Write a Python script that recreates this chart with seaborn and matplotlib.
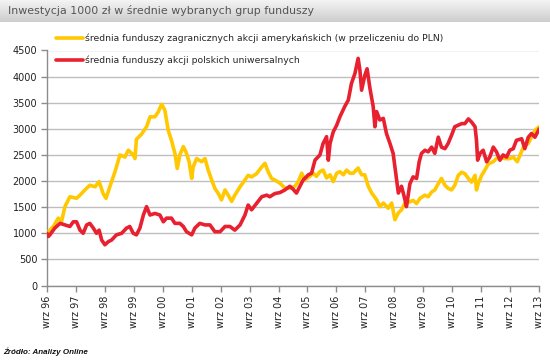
import numpy as np
import pandas as pd
import matplotlib
matplotlib.use("Agg")
import matplotlib.pyplot as plt
import seaborn as sns
from matplotlib.lines import Line2D
from matplotlib.colors import LinearSegmentedColormap

# ---------------- data ----------------
title = "Inwestycja 1000 zł w średnie wybranych grup funduszy"
source = "Źródło: Analizy Online"
label_us = "średnia funduszy zagranicznych akcji amerykańskich (w przeliczeniu do PLN)"
label_pl = "średnia funduszy akcji polskich uniwersalnych"

tick_years = [1996.67 + k for k in range(18)]
tick_labels = ["wrz 96", "wrz 97", "wrz 98", "wrz 99", "wrz 00", "wrz 01", "wrz 02",
               "wrz 03", "wrz 04", "wrz 05", "wrz 06", "wrz 07", "wrz 08", "wrz 09",
               "wrz 10", "wrz 11", "wrz 12", "wrz 13"]
y_ticks = [0, 500, 1000, 1500, 2000, 2500, 3000, 3500, 4000, 4500]

years_us = [1996.67, 1996.89, 1997.06, 1997.17, 1997.29, 1997.46, 1997.69, 1997.81, 1997.98,
            1998.15, 1998.33, 1998.47, 1998.61, 1998.71, 1998.84, 1999.02, 1999.19, 1999.36,
            1999.48, 1999.65, 1999.71, 1999.76, 1999.94, 2000.11, 2000.23, 2000.40, 2000.51,
            2000.63, 2000.74, 2000.86, 2000.97, 2001.09, 2001.17, 2001.26, 2001.38, 2001.47,
            2001.58, 2001.67, 2001.72, 2001.84, 2002.01, 2002.13, 2002.24, 2002.36, 2002.47,
            2002.59, 2002.70, 2002.82, 2002.93, 2003.05, 2003.16, 2003.34, 2003.51, 2003.62,
            2003.74, 2003.91, 2004.09, 2004.20, 2004.31, 2004.43, 2004.54, 2004.72, 2004.89,
            2005.06, 2005.24, 2005.35, 2005.47, 2005.58, 2005.75, 2005.87, 2005.98, 2006.10,
            2006.21, 2006.33, 2006.45, 2006.56, 2006.68, 2006.79, 2006.91, 2007.02, 2007.14,
            2007.25, 2007.42, 2007.54, 2007.65, 2007.77, 2007.89, 2008.06, 2008.17, 2008.29,
            2008.46, 2008.58, 2008.69, 2008.81, 2008.92, 2009.04, 2009.19, 2009.32, 2009.44,
            2009.56, 2009.73, 2009.84, 2009.96, 2010.07, 2010.19, 2010.30, 2010.42, 2010.53,
            2010.65, 2010.76, 2010.88, 2011.00, 2011.11, 2011.23, 2011.34, 2011.46, 2011.51,
            2011.57, 2011.69, 2011.80, 2011.92, 2012.09, 2012.20, 2012.32, 2012.49, 2012.66,
            2012.78, 2012.92, 2013.01, 2013.13, 2013.30, 2013.41, 2013.53, 2013.68]
values_us = [1000, 1130, 1290, 1220, 1510, 1700, 1670, 1730, 1830,
             1920, 1890, 1990, 1760, 1670, 1890, 2180, 2500, 2460,
             2590, 2500, 2430, 2800, 2900, 3040, 3230, 3230, 3320,
             3470, 3360, 2970, 2780, 2530, 2240, 2500, 2660, 2560,
             2370, 2050, 2270, 2430, 2370, 2430, 2210, 2020, 1860,
             1760, 1640, 1830, 1730, 1610, 1730, 1890, 2020, 2110,
             2080, 2140, 2270, 2340, 2180, 2050, 2020, 1960, 1865,
             1865, 1900, 1990, 2150, 2020, 2090, 2150, 2090, 2180,
             2210, 2060, 2120, 1990, 2150, 2180, 2120, 2210, 2150,
             2150, 2250, 2120, 2120, 1900, 1770, 1640, 1510, 1580,
             1480, 1580, 1260, 1390, 1450, 1580, 1600, 1630, 1570,
             1670, 1730, 1700, 1790, 1830, 1950, 2050, 1920, 1860,
             1830, 1920, 2110, 2170, 2140, 2050, 1980, 2110, 1830,
             1950, 2110, 2210, 2330, 2370, 2430, 2460, 2430, 2430,
             2460, 2370, 2490, 2650, 2720, 2840, 2970, 3040]

years_pl = [1996.67, 1996.72, 1996.77, 1996.94, 1997.12, 1997.29, 1997.46, 1997.58, 1997.69,
            1997.81, 1997.92, 1998.04, 1998.15, 1998.27, 1998.38, 1998.47, 1998.56, 1998.67,
            1998.79, 1998.90, 1999.07, 1999.25, 1999.42, 1999.53, 1999.65, 1999.76, 1999.88,
            2000.00, 2000.11, 2000.23, 2000.40, 2000.57, 2000.69, 2000.80, 2000.97, 2001.09,
            2001.26, 2001.38, 2001.49, 2001.67, 2001.78, 2001.95, 2002.13, 2002.30, 2002.47,
            2002.65, 2002.82, 2002.99, 2003.16, 2003.34, 2003.51, 2003.62, 2003.74, 2003.91,
            2004.09, 2004.26, 2004.37, 2004.54, 2004.72, 2004.89, 2005.06, 2005.18, 2005.29,
            2005.41, 2005.52, 2005.70, 2005.81, 2005.93, 2006.10, 2006.21, 2006.33, 2006.39,
            2006.45, 2006.56, 2006.68, 2006.79, 2006.96, 2007.08, 2007.19, 2007.31, 2007.42,
            2007.48, 2007.54, 2007.65, 2007.73, 2007.83, 2007.94, 2008.00, 2008.06, 2008.17,
            2008.29, 2008.40, 2008.52, 2008.63, 2008.75, 2008.81, 2008.92, 2009.04, 2009.09,
            2009.21, 2009.32, 2009.44, 2009.53, 2009.61, 2009.73, 2009.84, 2009.96, 2010.07,
            2010.19, 2010.30, 2010.42, 2010.53, 2010.65, 2010.76, 2010.88, 2011.00, 2011.11,
            2011.23, 2011.34, 2011.46, 2011.51, 2011.55, 2011.63, 2011.74, 2011.86, 2011.97,
            2012.09, 2012.20, 2012.32, 2012.43, 2012.55, 2012.66, 2012.78, 2012.89, 2013.07,
            2013.18, 2013.30, 2013.41, 2013.53, 2013.68]
values_pl = [1000, 940, 970, 1100, 1190, 1160, 1130, 1220, 1220,
             1060, 1000, 1160, 1190, 1100, 1000, 1060, 870, 780,
             840, 870, 970, 1000, 1100, 1130, 1000, 970, 1100,
             1350, 1510, 1350, 1380, 1350, 1220, 1290, 1290, 1190,
             1190, 1130, 1030, 970, 1100, 1190, 1160, 1160, 1030,
             1030, 1130, 1130, 1060, 1160, 1350, 1540, 1450, 1570,
             1700, 1730, 1700, 1760, 1780, 1830, 1900, 1840, 1770,
             1900, 2020, 2120, 2150, 2400, 2500, 2720, 2850, 2400,
             2720, 2940, 3070, 3230, 3430, 3550, 3870, 4060, 4350,
             4130, 3740, 4020, 4150, 3770, 3430, 3040, 3330, 3170,
             3200, 2910, 2720, 2530, 2020, 1770, 1900, 1640, 1510,
             1950, 2080, 2050, 2370, 2530, 2590, 2560, 2650, 2530,
             2840, 2650, 2620, 2720, 2880, 3040, 3070, 3100, 3100,
             3190, 3130, 3040, 2780, 2400, 2530, 2590, 2370, 2460,
             2650, 2560, 2400, 2500, 2460, 2590, 2620, 2780, 2810,
             2620, 2840, 2910, 2840, 3000]

col_us = "#FFC800"
col_pl = "#E8202F"

# ---------------- figure ----------------
sns.set_theme(style="white")
plt.rcParams["font.family"] = ["DejaVu Sans"]

fig = plt.figure(figsize=(5.5, 3.64), dpi=100)
fig.patch.set_facecolor("white")

# title band with gradient
band = fig.add_axes([0, 1 - 22 / 364, 1, 22 / 364])
grad = np.linspace(0, 1, 50).reshape(-1, 1)
cmap = LinearSegmentedColormap.from_list("g", ["#F4F4F4", "#CDCDCD"])
band.imshow(grad, aspect="auto", cmap=cmap, extent=[0, 1, 0, 1], origin="upper")
band.set_axis_off()
band.text(8 / 550, 0.5, title, transform=band.transAxes, ha="left", va="center",
          fontsize=7.9, color="#555555")

ax = fig.add_axes([47 / 550, 1 - 285.5 / 364, 492 / 550, 235 / 364])

df_us = pd.DataFrame({"rok": years_us, "wartosc": values_us})
df_pl = pd.DataFrame({"rok": years_pl, "wartosc": values_pl})
sns.lineplot(data=df_us, x="rok", y="wartosc", color=col_us, lw=2.6, ax=ax,
             estimator=None, zorder=3)
sns.lineplot(data=df_pl, x="rok", y="wartosc", color=col_pl, lw=2.6, ax=ax,
             estimator=None, zorder=4)

ax.set_xlim(tick_years[0], tick_years[-1])
ax.set_ylim(0, 4500)
ax.set_xticks(tick_years)
ax.set_xticklabels(tick_labels, rotation=90, fontsize=7, color="#222222")
ax.set_yticks(y_ticks)
ax.set_yticklabels([str(v) for v in y_ticks], fontsize=7, color="#222222")
ax.set_xlabel("")
ax.set_ylabel("")
ax.yaxis.grid(True, color="#BEBEBE", lw=1)
ax.xaxis.grid(False)
for s in ["top", "right"]:
    ax.spines[s].set_visible(False)
for s in ["left", "bottom"]:
    ax.spines[s].set_color("#8C8C8C")
    ax.spines[s].set_linewidth(1)
ax.tick_params(axis="both", which="major", direction="out", length=4, width=1,
               color="#8C8C8C", pad=3, bottom=True, left=True)
ax.set_facecolor("white")

handles = [Line2D([0], [0], color=col_us, lw=2.6),
           Line2D([0], [0], color=col_pl, lw=2.6)]
fig.legend(handles, [label_us, label_pl], loc="upper left",
           bbox_to_anchor=(56 / 550, 1 - 33.5 / 364), frameon=False, fontsize=6.7,
           handlelength=2.9, handletextpad=0.2, labelspacing=1.35, borderpad=0,
           borderaxespad=0)

fig.text(3 / 550, 1 - 352 / 364, source, fontsize=5.8, fontweight="bold",
         fontstyle="italic", ha="left", va="center", color="#111111",
         family=["Liberation Sans", "DejaVu Sans"])

fig.savefig("out.png", dpi=100, facecolor="white")
